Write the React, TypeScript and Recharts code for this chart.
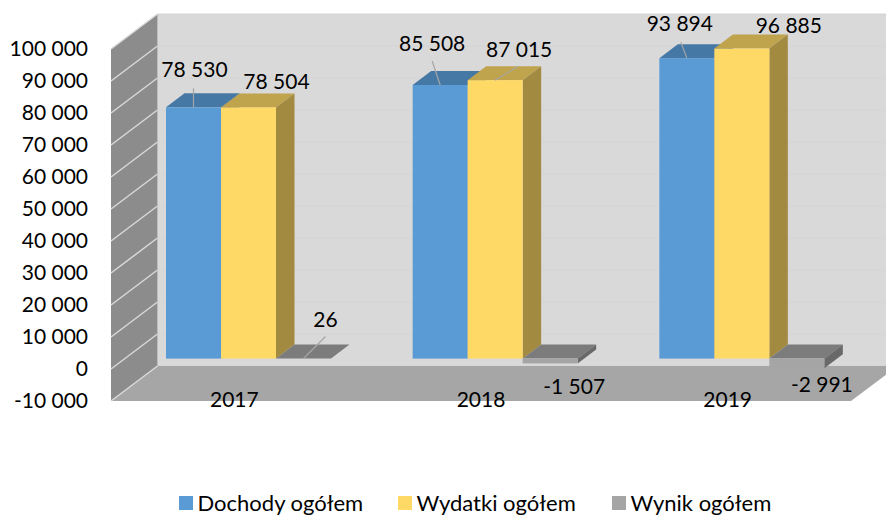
import { Bar, BarChart, Customized, LabelList, Legend, XAxis, YAxis } from "recharts";

const years = ["2017", "2018", "2019"];
const dochody = [78530, 85508, 93894];
const wydatki = [78504, 87015, 96885];
const wynik = [26, -1507, -2991];
const yTicks = [-10000, 0, 10000, 20000, 30000, 40000, 50000, 60000, 70000, 80000, 90000, 100000];

const tableData = years.map((year, i) => ({
    year,
    dochody: dochody[i],
    wydatki: wydatki[i],
    wynik: wynik[i],
}));

const WIDTH = 886;
const HEIGHT = 515;
const LEGEND_H = 30;
const XAXIS_H = 30;
const PLOT_TOP = 38.6;
const PLOT_BOTTOM = 390.6;
const AXIS_W = 125;
// the legend takes its height out of the plot, so it is left out of the bottom margin
const MARGIN = { top: PLOT_TOP, right: 21, bottom: HEIGHT - PLOT_BOTTOM - XAXIS_H - LEGEND_H, left: 0 };
const FONT = "Lato, Carlito, sans-serif";
const FONT_SIZE = 21;
const LEGEND_FONT_SIZE = 22;

// 3D look: depth of a bar, and how far the front/back walls sit from the bar plane
const BAR_DX = 18.5;
const BAR_DY = 14;
const FRONT_DX = 14;
const FRONT_DY = 10.4;
const WALL_DX = 46.5;
const WALL_DY = 35;

const fmt = (v: number) => {
    const s = String(Math.abs(v)).replace(/\B(?=(\d{3})+$)/g, " ");
    return v < 0 ? "-" + s : s;
};

const Walls = () => {
    const left = AXIS_W - FRONT_DX;
    const right = WIDTH - MARGIN.right - FRONT_DX;
    const plotTop = PLOT_TOP + FRONT_DY;
    const plotBottom = PLOT_BOTTOM + FRONT_DY;
    const yOf = (v: number) => plotBottom - ((v + 10000) / 110000) * (plotBottom - plotTop);
    return (
        <g>
            <rect
                x={left + WALL_DX}
                y={plotTop - WALL_DY}
                width={right - left}
                height={plotBottom - plotTop}
                fill="#d9d9d9"
            />
            {yTicks.map((t) => (
                <line
                    key={t}
                    x1={left + WALL_DX}
                    x2={right + WALL_DX}
                    y1={yOf(t) - WALL_DY}
                    y2={yOf(t) - WALL_DY}
                    stroke="#d4d4d4"
                />
            ))}
            <polygon
                points={`${left},${plotTop} ${left + WALL_DX},${plotTop - WALL_DY} ${left + WALL_DX},${plotBottom - WALL_DY} ${left},${plotBottom}`}
                fill="#8c8c8c"
            />
            <polygon
                points={`${left},${plotBottom} ${right},${plotBottom} ${right + WALL_DX},${plotBottom - WALL_DY} ${left + WALL_DX},${plotBottom - WALL_DY}`}
                fill="#a6a6a6"
            />
            {yTicks.map((t) => (
                <line
                    key={t}
                    x1={left}
                    x2={left + WALL_DX}
                    y1={yOf(t)}
                    y2={yOf(t) - WALL_DY}
                    stroke="#d9d9d9"
                    strokeWidth={1.5}
                />
            ))}
        </g>
    );
};

const cuboid = (front: string, top: string, side: string) => (props: any) => {
    const { x, y, width, height } = props;
    const t = Math.min(y, y + height);
    const b = Math.max(y, y + height);
    const r = x + width;
    return (
        <g>
            <polygon
                points={`${x},${t} ${r},${t} ${r + BAR_DX},${t - BAR_DY} ${x + BAR_DX},${t - BAR_DY}`}
                fill={top}
            />
            <polygon
                points={`${r},${t} ${r + BAR_DX},${t - BAR_DY} ${r + BAR_DX},${b - BAR_DY} ${r},${b}`}
                fill={side}
            />
            <rect x={x} y={t} width={width} height={b - t} fill={front} />
        </g>
    );
};

// label position relative to top centre of each bar: [label dx, label dy, leader dx, leader dy]
const dochodyLabels = [
    [1, -37, 0, -19],
    [-8, -41, -8, -24],
    [-7, -34, -6, -16],
];
const wydatkiLabels = [
    [28, -25, 0, 0],
    [24, -30, 23, -14],
    [47, -23, 0, 0],
];
const wynikLabels = [
    [22, -39, 22, -22],
    [24, 28, 0, 0],
    [25, 26, 0, 0],
];

const barLabel = (offsets: number[][]) => (props: any) => {
    const { x, y, width, height, value, index } = props;
    const [dx, dy, lx, ly] = offsets[index];
    const cx = x + width / 2;
    const t = Math.min(y, y + height);
    return (
        <g>
            {(lx !== 0 || ly !== 0) && (
                <line x1={cx} y1={t} x2={cx + lx} y2={t + ly} stroke="#a6a6a6" strokeWidth={1.2} />
            )}
            <text
                x={cx + dx}
                y={t + dy + 7}
                textAnchor="middle"
                fontFamily={FONT}
                fontSize={FONT_SIZE}
                fill="#000"
            >
                {fmt(value)}
            </text>
        </g>
    );
};

const YTick = ({ y, payload }: any) => (
    <text
        x={88}
        y={y + FRONT_DY + 7}
        textAnchor="end"
        fontFamily={FONT}
        fontSize={FONT_SIZE}
        fill="#000"
    >
        {fmt(payload.value)}
    </text>
);

const XTick = ({ x, y, payload }: any) => (
    <text
        x={x - FRONT_DX}
        y={y + 8}
        textAnchor="middle"
        fontFamily={FONT}
        fontSize={FONT_SIZE}
        fill="#000"
    >
        {payload.value}
    </text>
);

const legendItems = [
    { name: "Dochody ogółem", color: "#5b9bd5", width: 219 },
    { name: "Wydatki ogółem", color: "#ffd966", width: 214 },
    { name: "Wynik ogółem", color: "#a5a5a5", width: 170 },
];

const LegendContent = () => (
    <div
        style={{
            display: "flex",
            height: LEGEND_H,
            fontFamily: FONT,
            fontSize: LEGEND_FONT_SIZE,
            lineHeight: 1,
            color: "#000",
        }}
    >
        {legendItems.map((item) => (
            <div key={item.name} style={{ width: item.width, display: "flex", alignItems: "center" }}>
                <span
                    style={{
                        width: 14,
                        height: 14,
                        marginRight: 5,
                        background: item.color,
                        display: "inline-block",
                    }}
                />
                {item.name}
            </div>
        ))}
    </div>
);

export default function App() {
    return (
        <div style={{ position: "absolute", left: 0, top: 0, width: WIDTH, height: HEIGHT }}>
            <BarChart
                width={WIDTH}
                height={HEIGHT}
                data={tableData}
                margin={MARGIN}
                barSize={55}
                barGap={0}
            >
                <Customized component={Walls} />
                <XAxis
                    dataKey="year"
                    axisLine={false}
                    tickLine={false}
                    height={XAXIS_H}
                    tick={<XTick />}
                />
                <YAxis
                    domain={[-10000, 100000]}
                    ticks={yTicks}
                    interval={0}
                    width={AXIS_W}
                    axisLine={false}
                    tickLine={false}
                    tick={<YTick />}
                />
                <Bar
                    dataKey="dochody"
                    name="Dochody ogółem"
                    fill="#5b9bd5"
                    isAnimationActive={false}
                    shape={cuboid("#5b9bd5", "#4678a6", "#3f6d98")}
                >
                    <LabelList dataKey="dochody" content={barLabel(dochodyLabels)} />
                </Bar>
                <Bar
                    dataKey="wydatki"
                    name="Wydatki ogółem"
                    fill="#ffd966"
                    isAnimationActive={false}
                    shape={cuboid("#ffd966", "#bfa34d", "#a38a41")}
                >
                    <LabelList dataKey="wydatki" content={barLabel(wydatkiLabels)} />
                </Bar>
                <Bar
                    dataKey="wynik"
                    name="Wynik ogółem"
                    fill="#a5a5a5"
                    isAnimationActive={false}
                    shape={cuboid("#a5a5a5", "#7c7c7c", "#696969")}
                >
                    <LabelList dataKey="wynik" content={barLabel(wynikLabels)} />
                </Bar>
                <Legend
                    content={<LegendContent />}
                    wrapperStyle={{ position: "absolute", left: 178.5, top: 488, width: 603, height: LEGEND_H, bottom: "auto" }}
                />
            </BarChart>
        </div>
    );
}
